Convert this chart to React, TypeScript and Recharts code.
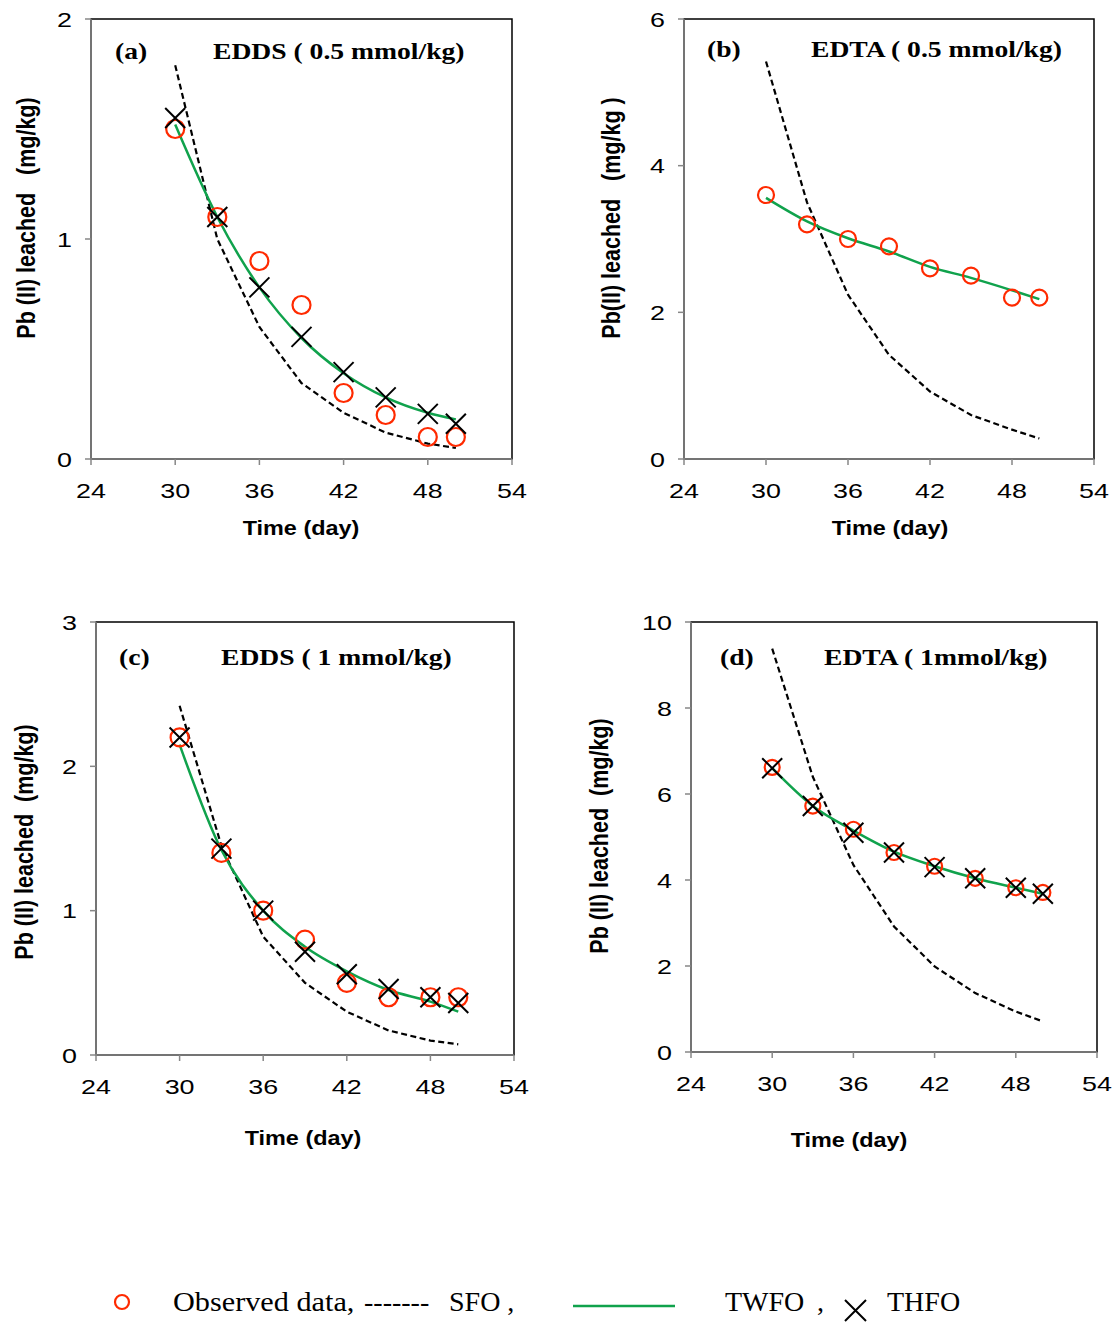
import React from "react"
import { ComposedChart, Line, XAxis, YAxis, ReferenceArea } from "recharts"

// sampling days (same for every panel)
const days = [30, 33, 36, 39, 42, 45, 48, 50]
const xTicks = [24, 30, 36, 42, 48, 54]

// (a) EDDS 0.5 mmol/kg
const obsA = [1.5, 1.1, 0.9, 0.7, 0.3, 0.2, 0.1, 0.1]
const thfoA = [1.55, 1.1, 0.78, 0.555, 0.395, 0.28, 0.205, 0.16]
const twfoA = [1.52, 1.1, 0.78, 0.55, 0.39, 0.28, 0.21, 0.18]
const sfoA = [1.79, 1.0, 0.6, 0.345, 0.21, 0.12, 0.07, 0.05]

// (b) EDTA 0.5 mmol/kg
const obsB = [3.6, 3.2, 3.0, 2.9, 2.6, 2.5, 2.2, 2.2]
const twfoB = [3.56, 3.24, 3.01, 2.83, 2.62, 2.47, 2.3, 2.18]
const sfoB = [5.42, 3.5, 2.24, 1.42, 0.92, 0.6, 0.4, 0.28]

// (c) EDDS 1 mmol/kg
const obsC = [2.2, 1.4, 1.0, 0.8, 0.5, 0.4, 0.4, 0.4]
const thfoC = [2.2, 1.43, 1.0, 0.715, 0.56, 0.457, 0.4, 0.36]
const twfoC = [2.15, 1.42, 1.0, 0.75, 0.58, 0.45, 0.37, 0.3]
const sfoC = [2.42, 1.45, 0.82, 0.5, 0.3, 0.17, 0.1, 0.074]

// (d) EDTA 1 mmol/kg
const obsD = [6.62, 5.72, 5.18, 4.64, 4.32, 4.04, 3.82, 3.71]
const thfoD = [6.6, 5.72, 5.1, 4.64, 4.3, 4.04, 3.82, 3.68]
const twfoD = [6.6, 5.72, 5.15, 4.66, 4.32, 4.04, 3.82, 3.68]
const sfoD = [9.38, 6.4, 4.35, 2.92, 1.99, 1.37, 0.94, 0.71]

const RED = "#ff2a00"
const GREEN = "#10a24c"
const GRAY = "#878787"
const SANS = "'Liberation Sans', Arial, sans-serif"
const SERIF = "'Liberation Serif', 'Times New Roman', serif"

const XTick = (p: any) => (
  <g transform={`translate(${p.x},${p.y})`}>
    <text transform="scale(1.28,1)" textAnchor="middle" dy="0.71em" fontSize={21} fontFamily={SANS} fill="#000">
      {p.payload.value}
    </text>
  </g>
)

const YTick = (p: any) => (
  <g transform={`translate(${p.x},${p.y})`}>
    <text transform="scale(1.28,1)" textAnchor="end" dy="0.36em" fontSize={21} fontFamily={SANS} fill="#000">
      {p.payload.value}
    </text>
  </g>
)

type PanelProps = {
  left: number
  top: number
  w: number
  h: number
  yMax: number
  yTicks: number[]
  obs: number[]
  twfo: number[]
  sfo: number[]
  thfo?: number[]
  r: number
}

function Panel({ left, top, w, h, yMax, yTicks, obs, twfo, sfo, thfo, r }: PanelProps) {
  const data = days.map((d, i) => ({
    day: d,
    obs: obs[i],
    twfo: twfo[i],
    sfo: sfo[i],
    thfo: thfo ? thfo[i] : undefined,
  }))
  const YW = 60
  const MT = 20
  const MR = 30
  return (
    <div style={{ position: "absolute", left: left - YW, top: top - MT }}>
      <ComposedChart width={YW + w + MR} height={MT + h + 45} data={data} margin={{ top: MT, right: MR, bottom: 0, left: 0 }}>
        <ReferenceArea x1={24} x2={54} y1={0} y2={yMax} fill="none" stroke="#000" strokeWidth={1.5} ifOverflow="visible" />
        <XAxis
          dataKey="day"
          type="number"
          domain={[24, 54]}
          ticks={xTicks}
          height={45}
          tickSize={6}
          tickMargin={18}
          axisLine={{ stroke: GRAY, strokeWidth: 1.5 }}
          tickLine={{ stroke: GRAY, strokeWidth: 1.5 }}
          tick={XTick}
        />
        <YAxis
          type="number"
          domain={[0, yMax]}
          ticks={yTicks}
          width={YW}
          tickSize={6}
          tickMargin={13}
          axisLine={{ stroke: GRAY, strokeWidth: 1.5 }}
          tickLine={{ stroke: GRAY, strokeWidth: 1.5 }}
          tick={YTick}
        />
        <Line dataKey="sfo" type="linear" stroke="#000" strokeWidth={2.2} strokeDasharray="6 3.5" dot={false} activeDot={false} isAnimationActive={false} />
        <Line dataKey="twfo" type="monotone" stroke={GREEN} strokeWidth={2.5} dot={false} activeDot={false} isAnimationActive={false} />
        <Line
          dataKey="obs"
          stroke="none"
          activeDot={false}
          isAnimationActive={false}
          dot={(p: any) => <circle key={`o${p.index}`} cx={p.cx} cy={p.cy} r={r} fill="none" stroke={RED} strokeWidth={2.2} />}
        />
        {thfo && (
          <Line
            dataKey="thfo"
            stroke="none"
            activeDot={false}
            isAnimationActive={false}
            dot={(p: any) => (
              <path
                key={`x${p.index}`}
                d={`M${p.cx - 10},${p.cy - 10}L${p.cx + 10},${p.cy + 10}M${p.cx - 10},${p.cy + 10}L${p.cx + 10},${p.cy - 10}`}
                stroke="#000"
                strokeWidth={2}
                fill="none"
              />
            )}
          />
        )}
      </ComposedChart>
    </div>
  )
}

const txt = (left: number, cy: number, s: string, size: number, font: string, bold: boolean, sx = 1) => (
  <div
    style={{
      position: "absolute",
      left,
      top: cy - size * 0.6,
      fontSize: size,
      lineHeight: `${size * 1.2}px`,
      fontFamily: font,
      fontWeight: bold ? "bold" : "normal",
      whiteSpace: "pre",
      transform: `scaleX(${sx})`,
      transformOrigin: "left center",
    }}
  >
    {s}
  </div>
)

const yLabel = (cx: number, cy: number, s: string) => (
  <div
    style={{
      position: "absolute",
      left: cx - 200,
      top: cy - 13,
      width: 400,
      height: 26,
      lineHeight: "26px",
      textAlign: "center",
      fontSize: 21.5,
      fontFamily: SANS,
      fontWeight: "bold",
      whiteSpace: "pre",
      transform: "rotate(-90deg) scaleY(1.2)",
    }}
  >
    {s}
  </div>
)

const xLabel = (cx: number, cy: number) => (
  <div
    style={{
      position: "absolute",
      left: cx - 100,
      top: cy - 12,
      width: 200,
      height: 24,
      lineHeight: "24px",
      textAlign: "center",
      fontSize: 20,
      fontFamily: SANS,
      fontWeight: "bold",
      transform: "scaleX(1.17)",
    }}
  >
    Time (day)
  </div>
)

export default function App() {
  return (
    <div style={{ position: "absolute", left: 0, top: 0, width: 1119, height: 1325, background: "#fff", overflow: "hidden" }}>
      <Panel left={91} top={19} w={421} h={440} yMax={2} yTicks={[0, 1, 2]} obs={obsA} twfo={twfoA} sfo={sfoA} thfo={thfoA} r={9} />
      <Panel left={684} top={19} w={410} h={440} yMax={6} yTicks={[0, 2, 4, 6]} obs={obsB} twfo={twfoB} sfo={sfoB} r={8} />
      <Panel left={96} top={622} w={418} h={433} yMax={3} yTicks={[0, 1, 2, 3]} obs={obsC} twfo={twfoC} sfo={sfoC} thfo={thfoC} r={9} />
      <Panel left={691} top={622} w={406} h={430} yMax={10} yTicks={[0, 2, 4, 6, 8, 10]} obs={obsD} twfo={twfoD} sfo={sfoD} thfo={thfoD} r={7.5} />

      {txt(115, 51, "(a)", 24, SERIF, true, 1.15)}
      {txt(213, 51, "EDDS ( 0.5 mmol/kg)", 24, SERIF, true, 1.15)}
      {txt(707, 49, "(b)", 24, SERIF, true, 1.15)}
      {txt(811, 49, "EDTA ( 0.5 mmol/kg)", 24, SERIF, true, 1.15)}
      {txt(119, 657, "(c)", 24, SERIF, true, 1.15)}
      {txt(221, 657, "EDDS ( 1 mmol/kg)", 24, SERIF, true, 1.15)}
      {txt(720, 657, "(d)", 24, SERIF, true, 1.15)}
      {txt(824, 657, "EDTA ( 1mmol/kg)", 24, SERIF, true, 1.15)}

      {yLabel(27, 218, "Pb (II) leached   (mg/kg)")}
      {yLabel(612, 218, "Pb(II) leached   (mg/kg )")}
      {yLabel(25, 842, "Pb (II) leached  (mg/kg)")}
      {yLabel(600, 836, "Pb (II) leached  (mg/kg)")}

      {xLabel(301, 528)}
      {xLabel(890, 528)}
      {xLabel(303, 1138)}
      {xLabel(849, 1140)}

      <svg style={{ position: "absolute", left: 0, top: 1280 }} width={1119} height={45}>
        <circle cx={122} cy={22} r={7} fill="none" stroke={RED} strokeWidth={2.2} />
        <line x1={573} y1={26} x2={675} y2={26} stroke={GREEN} strokeWidth={2.5} />
        <path d="M845,20L866,41M845,41L866,20" stroke="#000" strokeWidth={2} fill="none" />
      </svg>
      {txt(173, 1302, "Observed data,", 28, SERIF, false, 1.08)}
      {txt(364, 1302, "-------", 28, SERIF, false)}
      {txt(449, 1302, "SFO ,", 28, SERIF, false)}
      {txt(725, 1302, "TWFO", 28, SERIF, false)}
      {txt(817, 1302, ",", 28, SERIF, false)}
      {txt(887, 1302, "THFO", 28, SERIF, false)}
    </div>
  )
}
